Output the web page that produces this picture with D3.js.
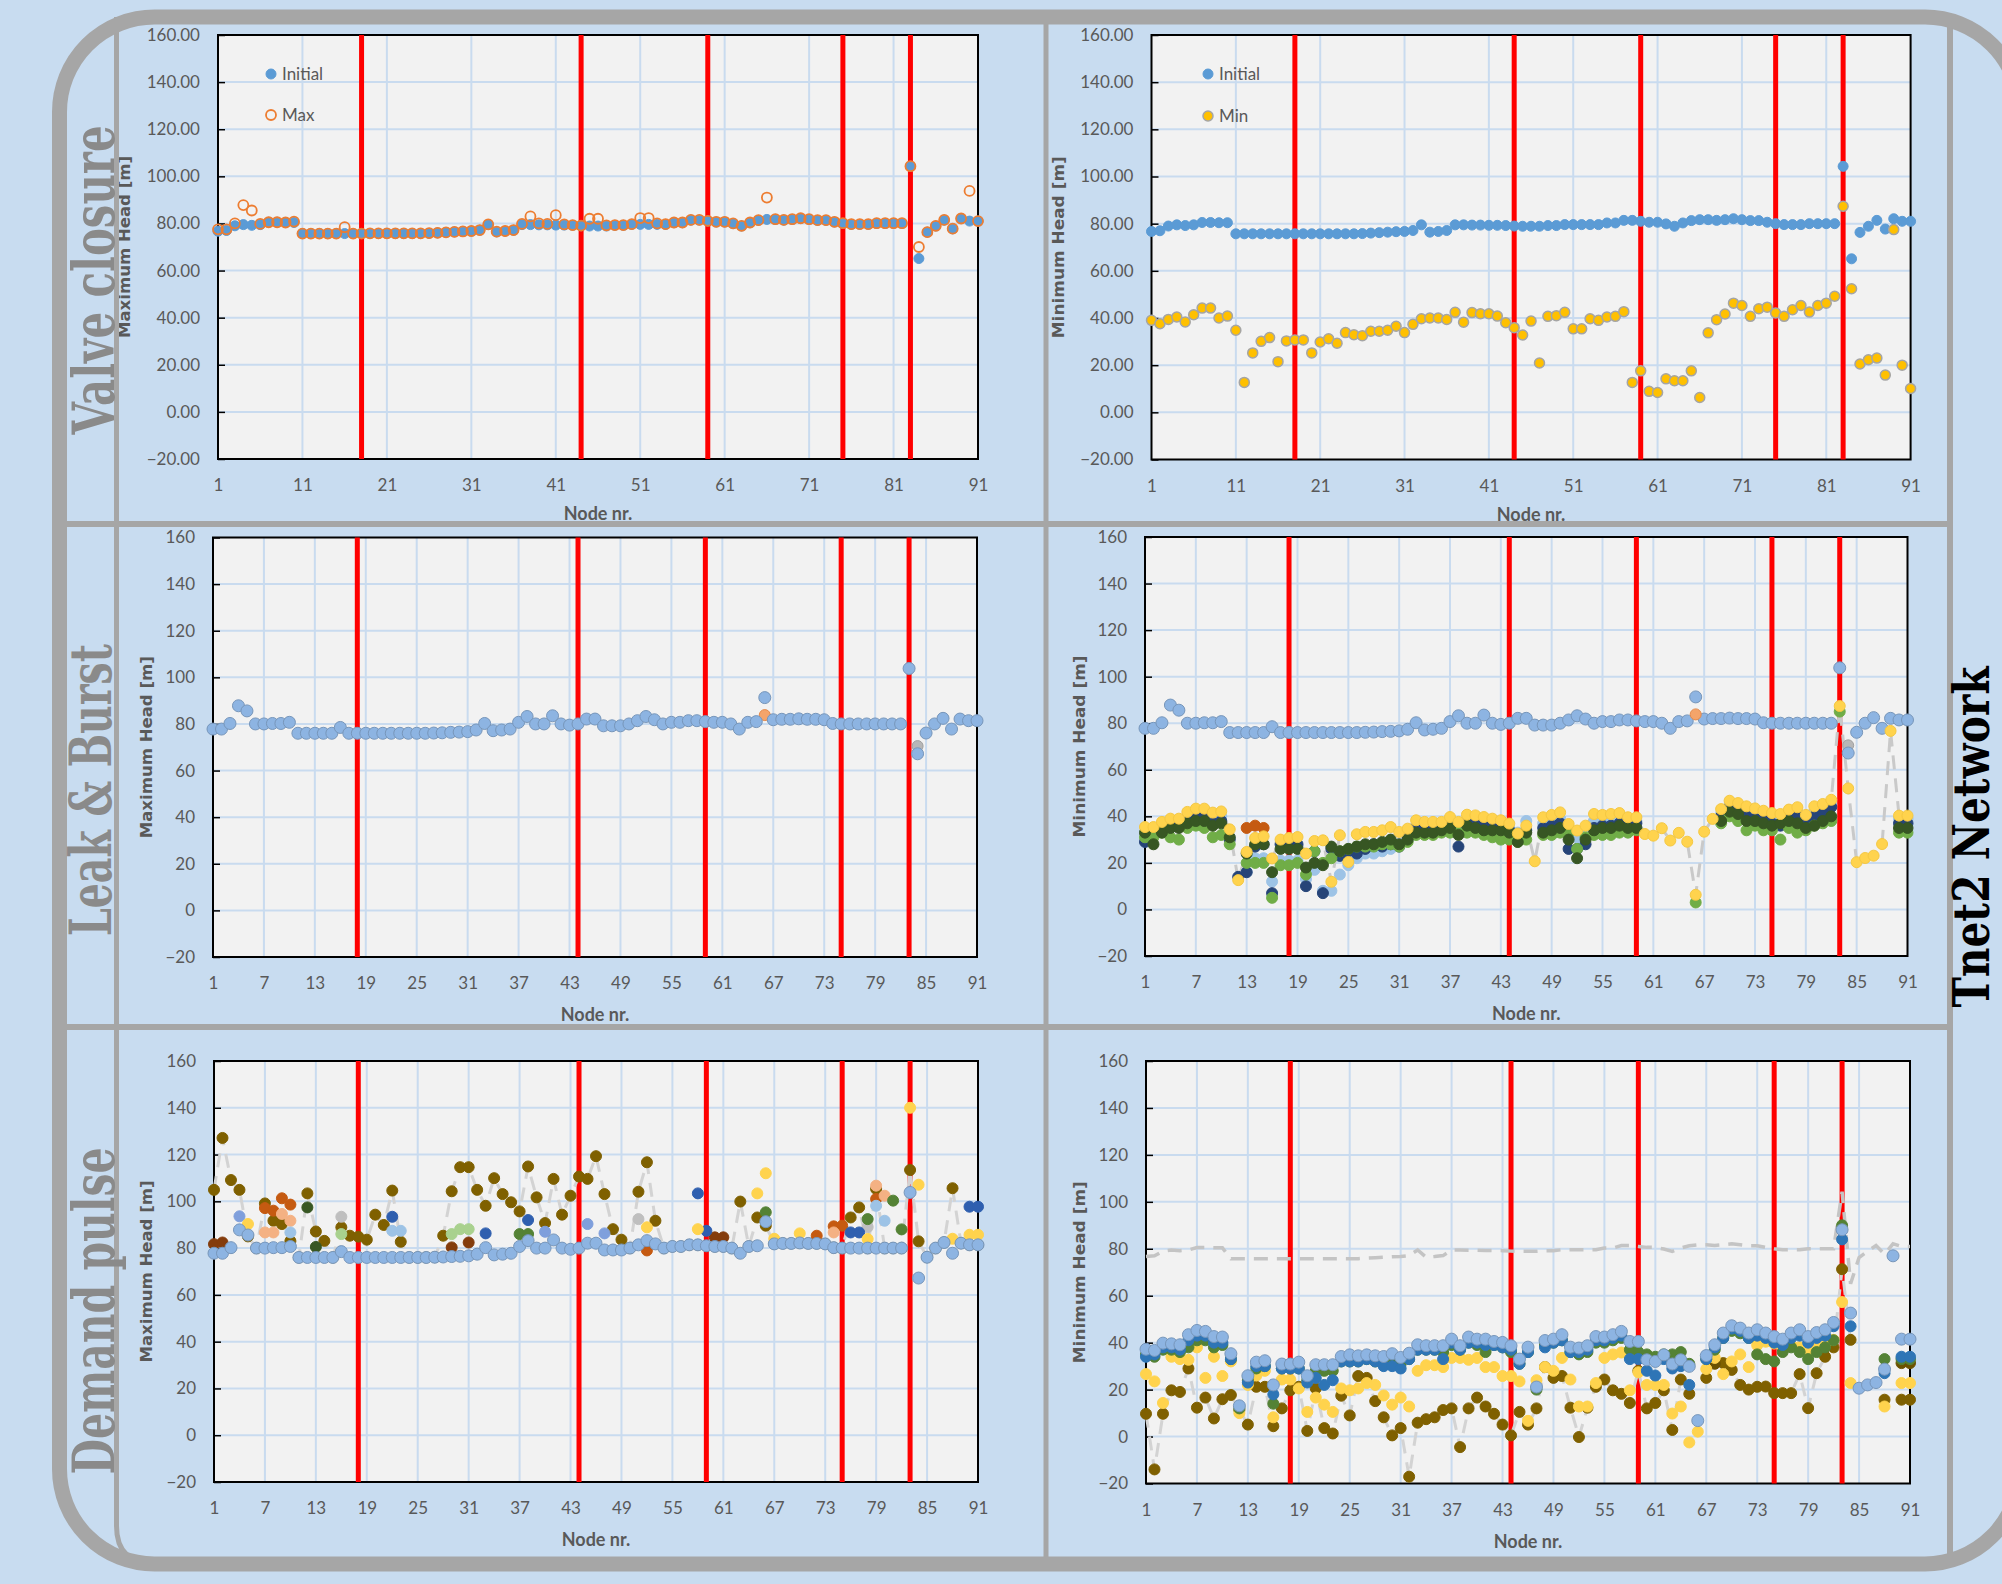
<!DOCTYPE html>
<html>
<head>
<meta charset="utf-8">
<script src="https://cdn.jsdelivr.net/npm/d3@7"></script>
<style>
  html, body { margin: 0; padding: 0; background: #c8dcf0; }
  svg { display: block; }
</style>
</head>
<body>
<div id="chart"></div>
<script>
// ---- axes ----
const yTicks = [-20, 0, 20, 40, 60, 80, 100, 120, 140, 160];
const topXTicks = [1, 11, 21, 31, 41, 51, 61, 71, 81, 91];
const lowXTicks = [1, 7, 13, 19, 25, 31, 37, 43, 49, 55, 61, 67, 73, 79, 85, 91];
const zoneNodes = [18, 44, 59, 75, 83];
const rowTitles = ["Valve closure", "Leak & Burst", "Demand pulse"];

// ---- valve closure ----
const initial = [76.7,77,79,79.5,79.2,79.5,80.5,80.5,80.4,80.4,
  75.7,75.7,75.7,75.7,75.7,75.7,75.7,75.7,75.7,75.7,
  75.7,75.7,75.7,75.7,75.7,75.8,76,76.2,76.4,76.6,
  76.7,77.1,79.5,76.4,76.7,77.1,79.5,79.5,79.4,79.4,
  79.3,79.3,79.2,79,78.9,78.9,78.9,79.2,79.2,79.6,
  79.6,79.6,79.6,79.6,80.3,80.3,81.4,81.4,81,80.6,
  80.6,79.9,78.9,80.3,81.3,81.7,81.7,81.4,81.7,82.1,
  81.7,81.3,81.3,80.6,80,79.6,79.6,79.6,80,80,
  80,80,104.3,65.1,76.3,78.9,81.4,77.7,82.1,81,81];

const vcMax = [77.5,77.5,80,87.8,85.5,79.8,80.5,80.5,80.4,80.8,
  75.7,75.7,75.7,75.7,75.7,78.4,75.7,75.7,75.8,75.8,
  75.8,75.8,75.8,75.8,75.8,75.9,76,76.2,76.4,76.6,
  76.8,77.2,79.6,76.5,76.8,77.2,79.8,83,80,79.8,
  83.5,79.6,79.3,79.1,82,82,79.2,79.3,79.3,79.7,
  82.3,82.3,80,79.7,80.4,80.4,81.5,81.5,81.1,80.7,
  80.7,80,79,80.4,81.4,91,81.8,81.5,81.8,82.2,
  81.8,81.4,81.4,80.7,80.1,79.7,79.7,79.7,80.1,80.1,
  80.1,80.1,104.3,70,76.3,79,81.5,77.8,82.1,93.8,81];

const vcMin = [39,37.6,39.4,40.4,38.3,41.4,44.2,44.2,40,40.8,
  34.8,12.7,25.2,30.1,31.7,21.5,30.3,30.7,30.7,25.2,
  29.8,31.2,29.3,33.8,32.9,32.5,34.4,34.4,34.8,36.5,
  33.8,37.3,39.7,40,40,39.4,42.4,38.2,42.3,41.8,
  41.8,40.8,38,35.9,32.8,38.7,20.9,40.7,41,42.4,
  35.4,35.4,39.7,39,40.4,40.7,42.7,12.7,17.6,8.9,
  8.4,14.2,13.4,13.4,17.6,6.3,33.7,39.3,41.7,46.3,
  45.3,40.7,43.9,44.6,42.1,40.7,43.5,45.3,42.5,45.3,
  46.3,49.2,87.4,52.4,20.5,22.3,23,15.8,77.5,20,10.1];

// ---- leak & burst ----
const lbMax = [77.8,77.8,80.2,87.8,85.6,80,80,80.2,80.2,80.7,
  76,76,76,76,76,78.5,76,76,76,76,
  76,76,76,76,76,76,76.1,76.2,76.4,76.5,
  76.7,77.4,80.2,77.1,77.4,77.8,80.7,83.2,80,80,
  83.5,80,79.5,80,82.1,82.1,79.2,79.2,79.2,80,
  81.4,83.2,81.8,80,80.7,80.7,81.4,81.4,81,80.7,
  80.7,80,77.8,80.7,81,91.3,81.8,82,82,82.2,
  82,82,81.8,80.2,80,80,80,80,80,80,
  80,80,103.8,67.2,76.1,80,82.4,77.8,82.1,81.4,81.4];
const lbOrange = [[66, 83.8]];
const lbGray = [[84, 70.5]];

const lbMinA = [35.4,35.4,37.6,39,39,41.9,43.3,43.3,41.6,42.1,
  34.4,12.6,24.7,30.7,31.4,21.9,30,30.7,31.1,24,
  29.4,29.7,11.9,31.9,20.4,32.3,33.3,33.3,34,35.4,
  33.3,34.7,38.3,37.6,37.6,37.6,39.7,37.6,40.7,40.4,
  39.7,39,38.3,36.9,32.6,36,20.7,39.6,40.6,41.7,
  36.7,33.9,36,41,40.6,41,41.4,39.6,39.6,32.4,
  31.7,34.9,29.6,32.9,29.1,6.3,33.4,38.9,43.1,46.7,
  45.7,44.3,43.4,42.4,41.4,41,42.9,43.9,40.6,44.3,
  45.3,47.1,87.4,52,20.3,22.1,23.1,28.1,76.7,40.3,40.3];
const lbMinB = [33,28,33,35,35,37,38,38,36,37,
  31,null,24,28,28,16,26,26,26,18,
  20,19,27,25,26,27,28,28,29,30,
  28,30,33,33,33,34,35,32,36,35,
  34,34,34,33,29,33,null,33,34,35,
  30,22,30,34,35,35,36,35,35,null,
  null,null,null,null,null,null,null,null,38,42,
  41,38,38,37,36,37,38,37,35,36,
  38,40,null,null,null,null,null,null,null,35,35];
const lbMinC = [31,31,33,31,30,35,36,35,31,32,
  28,null,20,20,20,5,19,19,20,15,
  25,20,22,25,26,27,27,27,28,28,
  27,29,32,32,32,33,33,33,33,33,
  32,31,30,30,29,30,null,32,32,33,
  33,26,31,32,32,32,33,33,34,null,
  null,null,null,null,null,3,null,null,37,40,
  38,34,36,34,34,30,35,33,34,36,
  37,38,85,null,null,null,null,null,null,33,33];
const lbMinD = [29,33,34,35,36,38,40,40,37,38,
  30,14,16,27,28,7,28,29,28,10,
  25,7,26,23,25,24,26,28,27,28,
  27,31,35,34,34,34,36,27,37,37,
  36,35,35,34,31,34,null,35,36,37,
  26,26,28,35,36,36,37,36,37,null,
  null,null,null,null,null,null,null,null,40,44,
  42,40,39,39,37,36,39,40,38,40,
  42,44,null,null,null,null,null,null,null,37,37];
const lbMinE = [33,33,36,37,37,40,41,41,39,40,
  31,null,16,22,22,12,21,21,21,13,
  17,8,8,15,19,22,24,24,25,26,
  28,30,36,36,36,36,37,37,38,38,
  37,37,36,35,33,38,null,37,38,39,
  34,31,33,38,38,39,39,38,38,null,
  null,null,null,null,null,null,null,null,41,45,
  44,42,42,41,40,39,41,42,39,42,
  44,45,null,null,null,null,null,null,null,39,39];
const lbMinOrange = [[13, 35], [14, 36], [15, 35]];

// ---- demand pulse ----
const dpMaxOlive = [104.9,127.1,109.1,104.9,85,80,99.1,91.7,90.3,83,
  76,103.4,87.1,83.1,76,88.9,85.3,84.9,83.6,94.3,
  89.9,104.6,82.7,76,76,76,76.1,85.3,104.3,114.6,
  114.6,104.9,98.1,109.9,103.1,99.6,95.7,114.9,101.7,90.7,
  109.6,94.3,102.4,110.6,109.6,119.3,103.1,88.1,83.6,80,
  104.1,116.7,91.7,80,80.7,80.7,81.4,81.4,81,80.7,
  80.7,80,99.9,80.7,93.1,89.6,81.8,82,82,82.2,
  82,82,81.8,80.2,80,93.1,97.4,80,105.3,80,
  80,80,113.4,82.9,76.1,80,82.4,105.6,82.1,81.4,81.4];
const dpMaxOrange = [[7,97.1],[8,96],[9,101.3],[10,98.6],[52,79],[72,85.3],[74,89.3],[75,89.6],[79,101]];
const dpMaxPeach = [[7,86.7],[8,86.7],[9,94.6],[10,91.7],[74,86.7],[79,106.7],[80,102.4]];
const dpMaxBrown = [[1,81.7],[2,82.4],[29,80.3],[31,82.4],[60,84.6],[61,84.6]];
const dpMaxGray = [[16,93.4],[51,92.4],[78,89]];
const dpMaxLtGreen = [[16,86],[29,86],[30,88.1],[31,88.1]];
const dpMaxDkGreen = [[12,97.4],[13,80.5]];
const dpMaxGreen = [[37,86],[38,86],[66,95.3],[78,92.4],[81,100.3],[82,88]];
const dpMaxSteel = [[4,93.6],[40,87],[45,90.3],[47,86.3]];
const dpMaxBlue = [[22,93.4],[33,86.3],[38,92],[58,103.4],[59,87.4],[76,86.7],[77,86.7],[90,97.7],[91,97.7]];
const dpMaxLtBlue = [[10,86.7],[22,87.4],[23,87.4],[79,98.1],[80,91.7]];
const dpMaxYellow = [[5,90.3],[52,88.9],[58,88.1],[65,103.4],[66,112],[67,84],[70,86.3],[78,83.9],[83,140],[84,107.1],[88,84],[90,85.7],[91,85.7]];

const dpMinA = [37.2,36.7,39.8,39.5,39.1,43.4,45.2,44.8,42.6,42.4,
  35.3,13.1,25.9,31.7,32.3,22,30.9,30.9,31.7,25.9,
  30.6,30.6,30.6,34.1,34.8,34.4,34.8,34.4,34.1,35.3,
  33.7,35.5,39.1,38.7,38.7,38.7,41.5,38.7,42.4,41.5,
  41.5,40.5,40.1,38.7,33,38.1,21.1,40.9,41.5,43.4,
  38.1,37.7,38.7,42.6,42.4,43.4,44.8,40.5,40.5,32.7,
  32,34.8,30.9,32.7,29.9,6.8,34.5,39.1,44.1,47.2,
  46.2,44.1,45.5,44.1,42.6,41.5,44.1,45.5,42.6,44.3,
  45.5,48.6,88.1,52.6,20.6,22,23,28.7,77,41.5,41.5];
const dpMinB = [26.6,23.5,14.3,34,33,32.7,38,25,34,25.8,
  32,10,22,26,28,8.2,24.3,24.3,20.5,10.5,
  16.6,13.6,10.5,20.5,19.7,20.5,22.8,22,17.5,13.6,
  16.6,12.8,28,30.4,30.4,29.6,33.5,33.5,32.7,33.5,
  29.6,29.6,25.8,25.8,23.5,6.7,24,29.6,28,33.5,
  24.3,12.8,12.8,22.8,33.5,35,35.8,19.7,27.4,22,
  22,22,9.8,12.8,-2.5,2.1,28.8,33.5,26.6,32,
  35,29.6,38.9,40.4,39.6,38.1,38.9,38.1,36.6,38.1,
  38.9,41.2,57.3,22.8,null,null,null,12.8,null,22.8,22.8];
const dpMinC = [9.7,-14,9.7,19.7,19,29,12.3,16.6,7.7,15.9,
  17.7,11.3,5.1,21.2,21.2,4.4,12,19.7,21.2,2.4,
  20.5,3.6,1.3,17.4,9,25.8,25,15.1,8.2,0.5,
  3.6,-17.1,5.9,7.4,8.2,11.3,12,-4.5,12,16.6,
  12.8,9.7,5.1,0.5,10.5,5.1,12,29.6,25,25.8,
  12.3,-0.2,12.3,21.2,24.3,19.7,18.2,14.3,28,12,
  14.3,19.7,2.8,24.3,18.2,null,25,31.3,31.3,28.4,
  22,20,21.2,21.3,18.5,18.5,18.5,26.6,12.1,27,
  34,38,71.3,41.2,null,null,null,15.7,null,15.7,15.7];
const dpMinD = [35,34,37,37,36,38,41,41,38,39,
  33,12,24,29,30,14,29,29,29,24,
  28,28,28,32,32,32,33,32,32,33,
  31,33,37,37,37,36,39,37,40,39,
  36,39,38,36,31,36,20,39,40,41,
  36,35,36,40,40,41,42,37,36,35,
  34,35,35,36,31,null,33,37,42,45,
  44,42,35,33,32,36,38,36,33,36,
  38,41,90,null,null,null,null,33,null,33,33];
const dpMinE = [34,35,38,38,37,41,43,43,40,40,
  33,null,23,30,30,18,29,29,29,23,
  25,22,24,32,32,32,33,32,30,30,
  29,33,37,37,37,33,40,37,40,40,
  39,39,38,37,31,36,null,38,40,41,
  36,36,37,41,41,42,43,33,33,28,
  26,33,29,30,22,null,33,38,42,46,
  45,42,43,42,40,39,42,43,40,42,
  43,47,84,47,null,null,null,27,null,34,34];
const dpMinOlive2 = [[68,31],[90,31.3],[91,31.3]];

// ---- drawing ----
const W = 2002, H = 1584;
const frameColor = "#a6a6a6";
const textGray = "#595959";
const lbFill = "#8db4e2", lbStroke = "#7796ba";

const svg = d3.select("#chart").append("svg")
  .attr("width", W).attr("height", H);

svg.append("rect").attr("width", W).attr("height", H).attr("fill", "#c8dcf0");

function toPairs(vals) {
  return vals.map((v, i) => [i + 1, v]).filter(d => d[1] != null);
}

function panel(p) {
  const x = d3.scaleLinear().domain([1, 91]).range([p.left, p.right]);
  const y = d3.scaleLinear().domain([-20, 160]).range([p.bottom, p.top]);
  const g = svg.append("g");

  g.append("rect")
    .attr("x", p.left).attr("y", p.top)
    .attr("width", p.right - p.left).attr("height", p.bottom - p.top)
    .attr("fill", "#f2f2f2");

  g.append("g").selectAll("line")
    .data(yTicks.slice(1, -1))
    .join("line")
    .attr("x1", p.left).attr("x2", p.right)
    .attr("y1", d => y(d)).attr("y2", d => y(d))
    .attr("stroke", "#c9dbef").attr("stroke-width", 2);

  g.append("g").selectAll("line")
    .data(p.xTicks.slice(1, -1))
    .join("line")
    .attr("x1", d => x(d)).attr("x2", d => x(d))
    .attr("y1", p.top).attr("y2", p.bottom)
    .attr("stroke", "#c9dbef").attr("stroke-width", 2);

  g.append("rect")
    .attr("x", p.left).attr("y", p.top)
    .attr("width", p.right - p.left).attr("height", p.bottom - p.top)
    .attr("fill", "none").attr("stroke", "#000").attr("stroke-width", 2);

  g.append("g").selectAll("line")
    .data(zoneNodes)
    .join("line")
    .attr("x1", d => x(d)).attr("x2", d => x(d))
    .attr("y1", p.top).attr("y2", p.bottom)
    .attr("stroke", "#ff0000").attr("stroke-width", 5);

  const ya = g.append("g")
    .attr("transform", `translate(${p.left},0)`)
    .call(d3.axisLeft(y).tickValues(yTicks).tickFormat(d3.format(p.yFmt))
      .tickSizeInner(-7).tickSizeOuter(0).tickPadding(18));
  ya.select(".domain").remove();
  ya.selectAll("line").attr("stroke", "#000").attr("stroke-width", 1.5);
  ya.selectAll("text").attr("fill", textGray)
    .style("font", "17px Lato, 'Open Sans', sans-serif");

  const xa = g.append("g")
    .attr("transform", `translate(0,${p.bottom})`)
    .call(d3.axisBottom(x).tickValues(p.xTicks).tickFormat(d3.format("d"))
      .tickSize(0).tickPadding(20));
  xa.select(".domain").remove();
  xa.selectAll("text").attr("fill", textGray)
    .style("font", "17px Lato, 'Open Sans', sans-serif");

  g.append("text")
    .attr("transform", `translate(${p.left - p.titleGap},${(p.top + p.bottom) / 2}) rotate(-90)`)
    .attr("text-anchor", "middle")
    .attr("textLength", 182).attr("lengthAdjust", "spacingAndGlyphs")
    .attr("fill", textGray)
    .style("font", "bold 15px 'DejaVu Sans', sans-serif")
    .text(p.yTitle);

  g.append("text")
    .attr("x", (p.left + p.right) / 2).attr("y", p.bottom + p.nodeGap)
    .attr("text-anchor", "middle")
    .attr("fill", textGray)
    .style("font", "bold 18px Lato, 'Open Sans', sans-serif")
    .text("Node nr.");

  const series = svg.append("g");
  return { g: series, x, y };
}

function dots(pl, data, fill, stroke, r, sw) {
  pl.g.append("g").selectAll("circle")
    .data(data)
    .join("circle")
    .attr("cx", d => pl.x(d[0]))
    .attr("cy", d => pl.y(d[1]))
    .attr("r", r)
    .attr("fill", fill)
    .attr("stroke", stroke)
    .attr("stroke-width", sw);
}

function dashed(pl, vals, color, w) {
  const line = d3.line()
    .defined(d => d != null)
    .x((d, i) => pl.x(i + 1))
    .y(d => pl.y(d));
  pl.g.append("path")
    .attr("d", line(vals))
    .attr("fill", "none")
    .attr("stroke", color)
    .attr("stroke-width", w)
    .attr("stroke-dasharray", "14 9");
}

// row 1: valve closure
const p1 = panel({ left: 218, right: 978, top: 35, bottom: 459, yFmt: ".2f",
  xTicks: topXTicks, yTitle: "Maximum Head [m]", titleGap: 88, nodeGap: 61 });
dots(p1, toPairs(initial), "#5b9bd5", "#5b9bd5", 5, 1);
dots(p1, toPairs(vcMax), "none", "#ed7d31", 5, 1.8);

const p2 = panel({ left: 1151.5, right: 1910.6, top: 35, bottom: 459.5, yFmt: ".2f",
  xTicks: topXTicks, yTitle: "Minimum Head [m]", titleGap: 88, nodeGap: 61 });
dots(p2, toPairs(initial), "#5b9bd5", "#5b9bd5", 5, 1);
dots(p2, toPairs(vcMin), "#ffc000", "#a5a5a5", 5, 1.5);

// legends
function legend(cx, cy, fill, stroke, sw, label) {
  svg.append("circle").attr("cx", cx).attr("cy", cy).attr("r", 5)
    .attr("fill", fill).attr("stroke", stroke).attr("stroke-width", sw);
  svg.append("text").attr("x", cx + 11).attr("y", cy + 6)
    .attr("fill", textGray)
    .style("font", "17px Lato, 'Open Sans', sans-serif")
    .text(label);
}
legend(271, 74, "#5b9bd5", "#5b9bd5", 1, "Initial");
legend(271, 115, "none", "#ed7d31", 1.8, "Max");
legend(1208, 74, "#5b9bd5", "#5b9bd5", 1, "Initial");
legend(1208, 116, "#ffc000", "#a5a5a5", 1.5, "Min");

// row 2: leak & burst
const p3 = panel({ left: 213, right: 977, top: 537.5, bottom: 957, yFmt: "d",
  xTicks: lowXTicks, yTitle: "Maximum Head [m]", titleGap: 61, nodeGap: 64 });
dots(p3, lbOrange, "#f4a46a", "#e58a4a", 5.5, 1);
dots(p3, lbGray, "#b7b7b7", "#a0a0a0", 5.5, 1);
dots(p3, toPairs(lbMax), lbFill, lbStroke, 6, 1);

const p4 = panel({ left: 1145, right: 1907.5, top: 537, bottom: 956, yFmt: "d",
  xTicks: lowXTicks, yTitle: "Minimum Head [m]", titleGap: 60, nodeGap: 64 });
dashed(p4, lbMinA, "#c9c9c9", 3);
dots(p4, lbGray, "#b7b7b7", "#a0a0a0", 5.5, 1);
dots(p4, toPairs(lbMax), lbFill, lbStroke, 6, 1);
dots(p4, lbOrange, "#f4a46a", "#e58a4a", 5.5, 1);
dots(p4, lbMinOrange, "#c55a11", "#c55a11", 5.5, 1);
dots(p4, toPairs(lbMinE), "#9dc3e6", "#9dc3e6", 5.5, 1);
dots(p4, toPairs(lbMinD), "#264478", "#264478", 5.5, 1);
dots(p4, toPairs(lbMinC), "#70ad47", "#70ad47", 5.5, 1);
dots(p4, toPairs(lbMinB), "#375623", "#375623", 5.5, 1);
dots(p4, toPairs(lbMinA), "#ffd34d", "#f5c842", 5.5, 1);

// row 3: demand pulse
const p5 = panel({ left: 214, right: 978, top: 1061, bottom: 1482, yFmt: "d",
  xTicks: lowXTicks, yTitle: "Maximum Head [m]", titleGap: 62, nodeGap: 64 });
dashed(p5, dpMaxOlive, "#d3d3d3", 3);
dots(p5, toPairs(dpMaxOlive), "#7f6000", "#7f6000", 5.5, 1);
dots(p5, dpMaxBrown, "#843c0c", "#843c0c", 5.5, 1);
dots(p5, dpMaxOrange, "#c55a11", "#c55a11", 5.5, 1);
dots(p5, dpMaxPeach, "#f4b183", "#f4b183", 5.5, 1);
dots(p5, dpMaxGray, "#bfbfbf", "#bfbfbf", 5.5, 1);
dots(p5, dpMaxLtGreen, "#a9d18e", "#a9d18e", 5.5, 1);
dots(p5, dpMaxDkGreen, "#385723", "#385723", 5.5, 1);
dots(p5, dpMaxGreen, "#548235", "#548235", 5.5, 1);
dots(p5, dpMaxSteel, "#7f9fdc", "#7f9fdc", 5.5, 1);
dots(p5, dpMaxBlue, "#2f5faf", "#2f5faf", 5.5, 1);
dots(p5, dpMaxLtBlue, "#9dc3e6", "#9dc3e6", 5.5, 1);
dots(p5, dpMaxYellow, "#ffd34d", "#ffd34d", 5.5, 1);
dots(p5, toPairs(lbMax), lbFill, lbStroke, 6, 1);

const p6 = panel({ left: 1146, right: 1910, top: 1061, bottom: 1483.5, yFmt: "d",
  xTicks: lowXTicks, yTitle: "Minimum Head [m]", titleGap: 61, nodeGap: 64 });
dashed(p6, initial, "#c4c4c4", 3.5);
dashed(p6, dpMinC, "#d3d3d3", 3);
dots(p6, toPairs(dpMinC), "#7f6000", "#7f6000", 5.5, 1);
dots(p6, dpMinOlive2, "#6b5200", "#6b5200", 5.5, 1);
dots(p6, toPairs(dpMinB), "#ffd34d", "#ffd34d", 5.5, 1);
dots(p6, toPairs(dpMinD), "#548235", "#548235", 5.5, 1);
dots(p6, toPairs(dpMinE), "#2e75b6", "#2e75b6", 5.5, 1);
dots(p6, toPairs(dpMinA), lbFill, lbStroke, 6, 1);

// ---- frame ----
const frame = svg.append("g").attr("fill", "none").attr("stroke", frameColor);
frame.append("path")
  .attr("d", "M116.5,17 V1526 Q116.5,1564 156,1564")
  .attr("stroke-width", 5);
frame.append("line").attr("x1", 1046).attr("x2", 1046).attr("y1", 17).attr("y2", 1564)
  .attr("stroke-width", 5);
frame.append("line").attr("x1", 1950).attr("x2", 1950).attr("y1", 17).attr("y2", 1564)
  .attr("stroke-width", 6);
frame.append("line").attr("x1", 59.5).attr("x2", 1950).attr("y1", 524).attr("y2", 524)
  .attr("stroke-width", 6);
frame.append("line").attr("x1", 59.5).attr("x2", 1950).attr("y1", 1027).attr("y2", 1027)
  .attr("stroke-width", 6);
frame.append("rect")
  .attr("x", 59.5).attr("y", 17).attr("width", 1960.5).attr("height", 1547)
  .attr("rx", 95).attr("ry", 95)
  .attr("stroke-width", 15);

// ---- row titles ----
const titleRows = [
  { text: rowTitles[0], x: 114, y: 280, len: 309 },
  { text: rowTitles[1], x: 111, y: 790, len: 292 },
  { text: rowTitles[2], x: 114, y: 1311, len: 327 }
];
svg.append("g").selectAll("text")
  .data(titleRows)
  .join("text")
  .attr("transform", d => `translate(${d.x},${d.y}) rotate(-90)`)
  .attr("text-anchor", "middle")
  .attr("textLength", d => d.len)
  .attr("lengthAdjust", "spacingAndGlyphs")
  .attr("fill", "#8a8a8a")
  .style("font", "bold 57px 'DejaVu Serif', serif")
  .text(d => d.text);

svg.append("text")
  .attr("transform", "translate(1989,837) rotate(-90)")
  .attr("text-anchor", "middle")
  .attr("textLength", 341)
  .attr("lengthAdjust", "spacingAndGlyphs")
  .attr("fill", "#000")
  .style("font", "bold 50px 'DejaVu Serif', serif")
  .text("Tnet2 Network");
</script>
</body>
</html>
